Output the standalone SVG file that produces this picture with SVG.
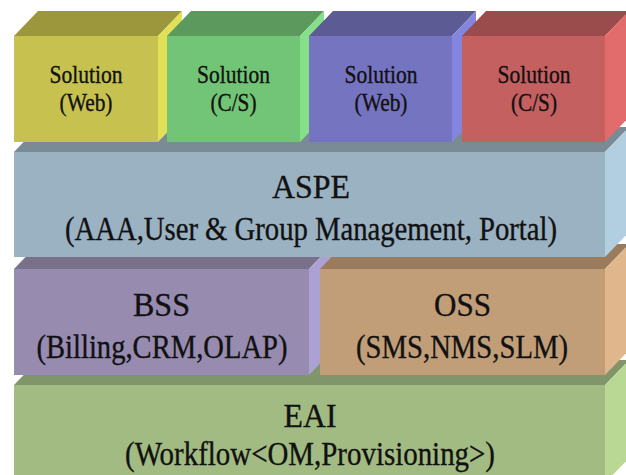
<svg xmlns="http://www.w3.org/2000/svg" width="626" height="475" viewBox="0 0 626 475">
  <style>
    text { font-family: "Liberation Serif", "Times New Roman", serif; fill: #111; stroke: #111; stroke-width: 0.35; text-anchor: middle; }
    .sol { font-size: 25px; }
    .big { font-size: 33px; }
    .yF { fill: #c7c24f; } .yT { fill: #9c973c; } .yS { fill: #e2df58; }
    .gF { fill: #72c476; } .gT { fill: #5b9a5c; } .gS { fill: #86e08a; }
    .bF { fill: #7574c1; } .bT { fill: #5c5b94; } .bS { fill: #8485df; }
    .rF { fill: #c46060; } .rT { fill: #9a4b4b; } .rS { fill: #e26b6b; }
    .aF { fill: #9bb2c3; } .aT { fill: #7a8b95; } .aS { fill: #b2cfe2; }
    .sF { fill: #978bb0; } .sT { fill: #797089; } .sS { fill: #aba1d2; }
    .oF { fill: #c29e78; } .oT { fill: #9a7b5e; } .oS { fill: #e0b78c; }
    .eF { fill: #a2bb82; } .eT { fill: #80966a; } .eS { fill: #b9d894; }
  </style>
  <rect width="626" height="475" fill="#ffffff"/>

  <g font-family="Liberation Serif, serif">
  <g id="eai">
    <polygon class="eT" points="14,385 605,385 629,360 38,360"/>
    <polygon class="eS" points="605,385 629,360 629,458 605,483"/>
    <rect class="eF" x="14" y="385" width="591" height="98"/>
    <text class="big" x="310" y="427" textLength="53" lengthAdjust="spacingAndGlyphs">EAI</text>
    <text class="big" x="310" y="465" textLength="370" lengthAdjust="spacingAndGlyphs">(Workflow&lt;OM,Provisioning&gt;)</text>
  </g>

  <g id="bss">
    <polygon class="sT" points="14,269 309,269 333,244 38,244"/>
    <polygon class="sS" points="309,269 333,244 333,350 309,375"/>
    <rect class="sF" x="14" y="269" width="295" height="106"/>
    <text class="big" x="161.5" y="316" textLength="57" lengthAdjust="spacingAndGlyphs">BSS</text>
    <text class="big" x="162" y="358" textLength="251" lengthAdjust="spacingAndGlyphs">(Billing,CRM,OLAP)</text>
  </g>

  <g id="oss">
    <polygon class="oT" points="320,269 605,269 629,244 344,244"/>
    <polygon class="oS" points="605,269 629,244 629,350 605,375"/>
    <rect class="oF" x="320" y="269" width="285" height="106"/>
    <text class="big" x="462.5" y="316" textLength="57" lengthAdjust="spacingAndGlyphs">OSS</text>
    <text class="big" x="462" y="358" textLength="212" lengthAdjust="spacingAndGlyphs">(SMS,NMS,SLM)</text>
  </g>

  <g id="aspe">
    <polygon class="aT" points="14,152 605,152 629,127 38,127"/>
    <polygon class="aS" points="605,152 629,127 629,232 605,257"/>
    <rect class="aF" x="14" y="152" width="591" height="105"/>
    <text class="big" x="311" y="198" textLength="78" lengthAdjust="spacingAndGlyphs">ASPE</text>
    <text class="big" x="311" y="240" textLength="492" lengthAdjust="spacingAndGlyphs">(AAA,User &amp; Group Management, Portal)</text>
  </g>

  <g id="solution-web-1">
    <polygon class="yT" points="14,36 158,36 182,11 38,11"/>
    <polygon class="yS" points="158,36 182,11 182,117 158,142"/>
    <rect class="yF" x="14" y="36" width="144" height="106"/>
    <text class="sol" x="86" y="83" textLength="73" lengthAdjust="spacingAndGlyphs">Solution</text>
    <text class="sol" x="86" y="111" textLength="53" lengthAdjust="spacingAndGlyphs">(Web)</text>
  </g>

  <g id="solution-cs-1">
    <polygon class="gT" points="167,36 300,36 324,11 191,11"/>
    <polygon class="gS" points="300,36 324,11 324,117 300,142"/>
    <rect class="gF" x="167" y="36" width="133" height="106"/>
    <text class="sol" x="233.5" y="83" textLength="73" lengthAdjust="spacingAndGlyphs">Solution</text>
    <text class="sol" x="233.5" y="111" textLength="46" lengthAdjust="spacingAndGlyphs">(C/S)</text>
  </g>

  <g id="solution-web-2">
    <polygon class="bT" points="309,36 452,36 476,11 333,11"/>
    <polygon class="bS" points="452,36 476,11 476,117 452,142"/>
    <rect class="bF" x="309" y="36" width="143" height="106"/>
    <text class="sol" x="381" y="83" textLength="73" lengthAdjust="spacingAndGlyphs">Solution</text>
    <text class="sol" x="381" y="111" textLength="53" lengthAdjust="spacingAndGlyphs">(Web)</text>
  </g>

  <g id="solution-cs-2">
    <polygon class="rT" points="462,36 605,36 629,11 486,11"/>
    <polygon class="rS" points="605,36 629,11 629,117 605,142"/>
    <rect class="rF" x="462" y="36" width="143" height="106"/>
    <text class="sol" x="534" y="83" textLength="73" lengthAdjust="spacingAndGlyphs">Solution</text>
    <text class="sol" x="534" y="111" textLength="46" lengthAdjust="spacingAndGlyphs">(C/S)</text>
  </g>
  </g>

  <g id="connectors"/>
</svg>
